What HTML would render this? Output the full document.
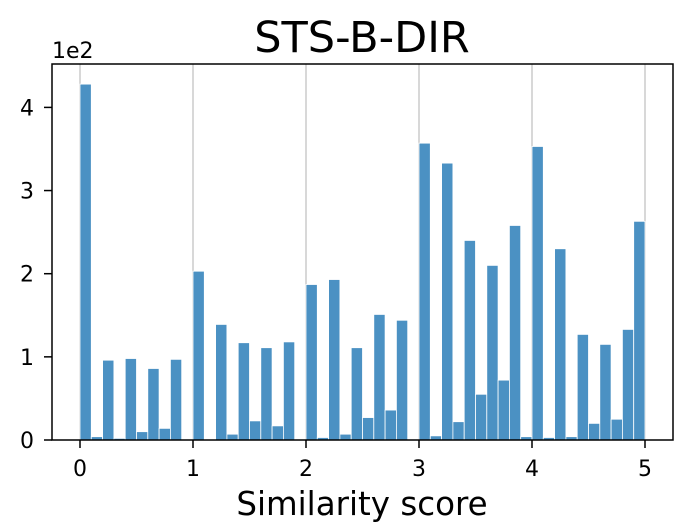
<!DOCTYPE html>
<html><head><meta charset="utf-8"><style>
body{margin:0;background:#fff;}
svg{display:block;font-family:"DejaVu Sans","Liberation Sans",sans-serif;}
</style></head><body>
<svg id="chart" width="680" height="530" viewBox="0 0 680 530">
<text x="362" y="52" font-size="43" text-anchor="middle" fill="#000">STS-B-DIR</text>
<text x="362" y="515" font-size="32.5" text-anchor="middle" fill="#000">Similarity score</text>
<text x="52" y="58" font-size="22" fill="#000">1e2</text>
<g id="grid"></g><g id="bars"></g><g id="axes"></g>
</svg>
<script>
const binStart = 0, binWidth = 0.1;
const counts = [428,4,96,2,98,10,86,14,97,0,203,0,139,7,117,23,111,17,118,0,187,3,193,7,111,27,151,36,144,0,357,5,333,22,240,55,210,72,258,4,353,3,230,4,127,20,115,25,133,263];
const xTicks = [0,1,2,3,4,5];
const yTicks = [0,1,2,3,4];
const L=52,R=673,T=64,B=440;
const xs = v => 80 + v*113;
const ys = v => B - v*0.8315;
const NS='http://www.w3.org/2000/svg';
function mk(tag, attrs, parent){const e=document.createElementNS(NS,tag);for(const k in attrs)e.setAttribute(k,attrs[k]);parent.appendChild(e);return e;}
const grid=document.getElementById('grid'), bars=document.getElementById('bars'), axes=document.getElementById('axes');
xTicks.forEach(t=>{
  const g=mk('line',{x1:xs(t),x2:xs(t),y1:T,y2:B,stroke:'#cccccc','stroke-width':1.5},grid);
  
  
  const tk=mk('line',{x1:xs(t),x2:xs(t),y1:B,y2:B+8,stroke:'#000','stroke-width':1.5},axes);
  
  
  const lb=mk('text',{x:xs(t),y:B+36,'font-size':22,'text-anchor':'middle',fill:'#000'},axes);
  lb.textContent=t;
  
  
});
yTicks.forEach(t=>{
  const tk=mk('line',{x1:L-8,x2:L,y1:ys(t*100),y2:ys(t*100),stroke:'#000','stroke-width':1.5},axes);
  
  
  const lb=mk('text',{x:L-18,y:ys(t*100)+8,'font-size':22,'text-anchor':'end',fill:'#000'},axes);
  lb.textContent=t;
  
  
});
counts.forEach((c,i)=>{
  const x0=xs(binStart+i*binWidth), x1=xs(binStart+(i+1)*binWidth);
  const r=mk('rect',{x:x0,y:ys(c),width:x1-x0,height:B-ys(c),fill:'#4b91c3',stroke:'#fff','stroke-width':0.8},bars);
  
  
});
const frame=mk('rect',{x:L,y:T,width:R-L,height:B-T,fill:'none',stroke:'#000','stroke-width':1.5},axes);


</script>
</body></html>
